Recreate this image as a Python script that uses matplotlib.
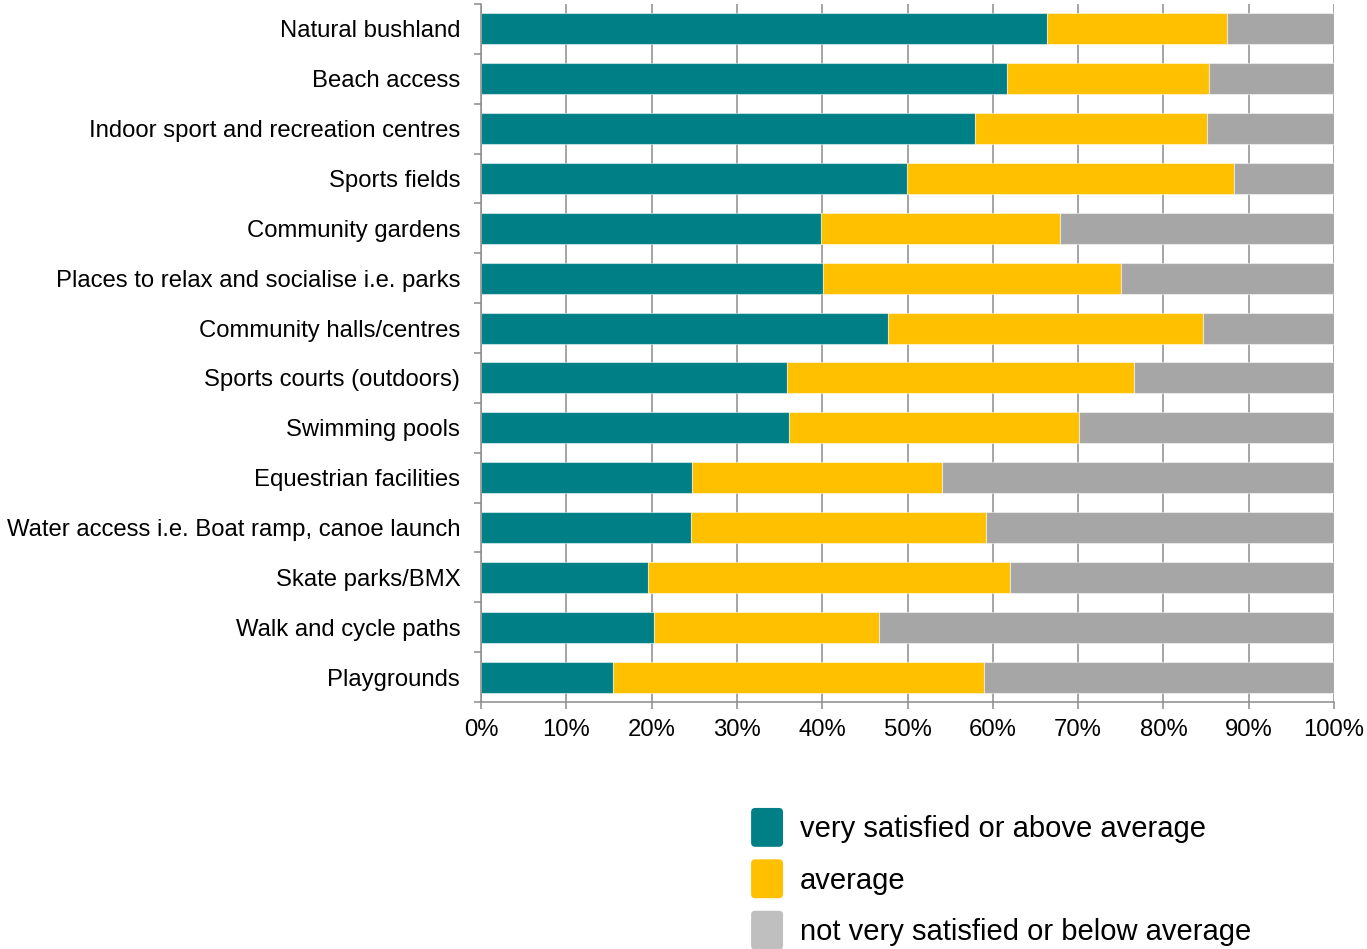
import matplotlib.pyplot as plt
import numpy as np
from matplotlib.patches import FancyBboxPatch, Patch
from matplotlib.legend_handler import HandlerPatch
from matplotlib.ticker import FixedLocator, PercentFormatter

plt.rcParams['font.family'] = ['Liberation Sans', 'DejaVu Sans']

facilities = [
    "Natural bushland",
    "Beach access",
    "Indoor sport and recreation centres",
    "Sports fields",
    "Community gardens",
    "Places to relax and socialise i.e. parks",
    "Community halls/centres",
    "Sports courts (outdoors)",
    "Swimming pools",
    "Equestrian facilities",
    "Water access i.e. Boat ramp, canoe launch",
    "Skate parks/BMX",
    "Walk and cycle paths",
    "Playgrounds",
]
above_avg = [66.4, 61.6, 57.9, 49.9, 39.9, 40.1, 47.7, 35.9, 36.1, 24.7, 24.6, 19.6, 20.3, 15.5]
average = [21.1, 23.7, 27.2, 38.4, 28.0, 34.9, 36.9, 40.7, 34.0, 29.3, 34.6, 42.4, 26.4, 43.5]
below_avg = [12.5, 14.7, 14.9, 11.7, 32.1, 25.0, 15.4, 23.4, 29.9, 46.0, 40.8, 38.0, 53.3, 41.0]

series_names = ["very satisfied or above average", "average",
                "not very satisfied or below average"]
bar_colors = ["#007F86", "#FFC000", "#A6A6A6"]
legend_colors = ["#007F86", "#FFC000", "#BFBFBF"]


class RoundedHandler(HandlerPatch):
    # legend key drawn as a rounded square
    def create_artists(self, legend, orig_handle, xdescent, ydescent,
                       width, height, fontsize, trans):
        w, h = 23, 28
        x0 = -xdescent + (width - w) / 2
        y0 = -ydescent + (height - h) / 2
        p = FancyBboxPatch((x0, y0), w, h,
                           boxstyle="round,pad=0,rounding_size=3",
                           facecolor=orig_handle.get_facecolor(),
                           edgecolor="none", transform=trans)
        return [p]


fig = plt.figure(figsize=(13.67, 9.49), dpi=100)
ax = fig.add_axes([0.3519, 0.2603, 0.6240, 0.7355])

y = np.arange(len(facilities))
left = np.zeros(len(facilities))
for vals, col in zip([above_avg, average, below_avg], bar_colors):
    ax.barh(y, vals, left=left, height=0.62, color=col,
            edgecolor=(1, 1, 1, 0.5), linewidth=0.8, zorder=2)
    left += np.array(vals)

ax.set_xlim(0, 100)
ax.set_ylim(len(facilities) - 0.5, -0.5)
ax.xaxis.set_major_locator(FixedLocator(np.arange(0, 101, 10)))
ax.xaxis.set_major_formatter(PercentFormatter(decimals=0))
ax.grid(axis='x', color='#8C8C8C', linewidth=1.1, zorder=0)

ax.set_yticks(y)
ax.set_yticklabels(facilities)
ax.yaxis.set_minor_locator(FixedLocator(np.arange(-0.5, len(facilities), 1)))
ax.tick_params(axis='y', which='major', length=0, pad=15, labelsize=17.2)
ax.tick_params(axis='y', which='minor', length=5, width=1.1, color='#8C8C8C')
ax.tick_params(axis='x', which='major', length=5, width=1.1, color='#8C8C8C',
               labelsize=17.2, pad=7)

for s in ['top', 'right']:
    ax.spines[s].set_visible(False)
for s in ['left', 'bottom']:
    ax.spines[s].set_color('#8C8C8C')
    ax.spines[s].set_linewidth(1.1)

handles = [Patch(facecolor=c) for c in legend_colors]
fig.legend(handles, series_names, loc='upper left',
           bbox_to_anchor=(0.5494, 0.1454), frameon=False, borderpad=0,
           borderaxespad=0, fontsize=21, handler_map={Patch: RoundedHandler()},
           handlelength=1.1, handleheight=1.35, handletextpad=0.58,
           labelspacing=0.64)

fig.savefig("out.png", dpi=100)
